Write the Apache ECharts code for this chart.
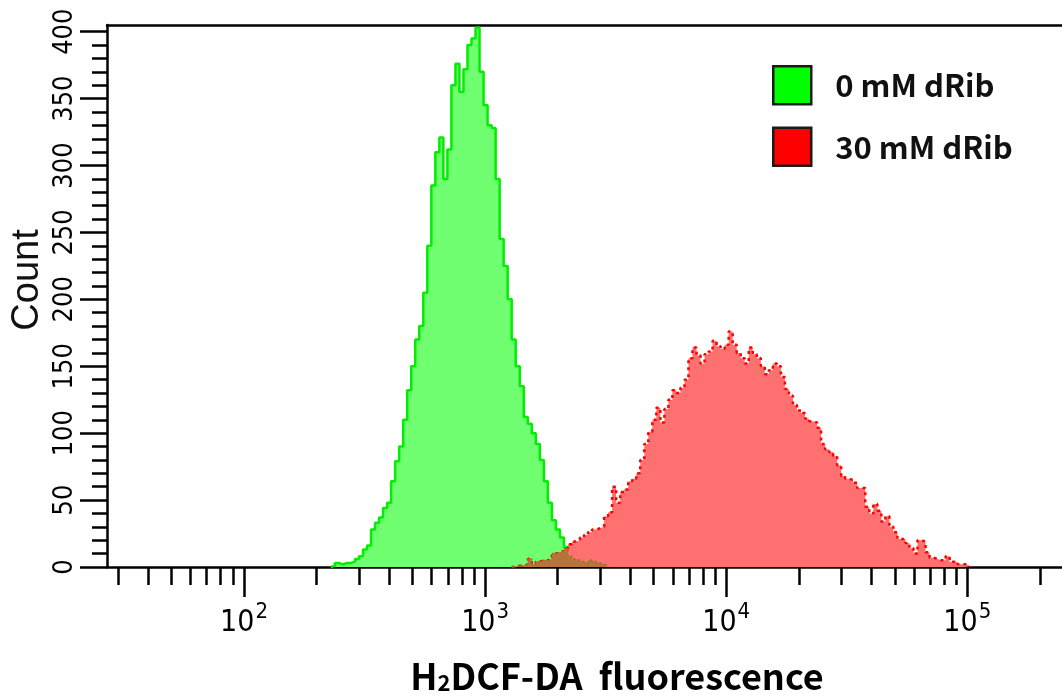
<!DOCTYPE html>
<html>
<head>
<meta charset="utf-8">
<script src="https://cdn.jsdelivr.net/npm/echarts@6/dist/echarts.min.js"></script>
<style>
  html, body { margin: 0; padding: 0; background: #ffffff; }
  #chart { width: 1062px; height: 700px; }
</style>
</head>
<body>
<div id="chart"></div>
<script>
// Histogram channels: equal-width bins on a log10 fluorescence scale
const BIN_WIDTH_LOG = 1 / 60;
const FIRST_BIN_LOG_0MM = 2.36;
const FIRST_BIN_LOG_30MM = 3.11;

const seriesNames = ['0 mM dRib', '30 mM dRib'];

// Cell counts per channel, 0 mM dRib
const counts0mM = [
  1, 3, 2, 3, 3, 4, 6, 8, 13, 16,
  28, 33, 37, 44, 48, 64, 79, 90, 110, 132,
  150, 170, 180, 205, 240, 285, 310, 321, 290, 312,
  360, 376, 355, 372, 390, 395, 403, 370, 345, 330,
  328, 290, 245, 225, 200, 170, 150, 135, 112, 107,
  100, 92, 80, 64, 48, 35, 28, 22, 15, 8,
  6, 5, 4, 3, 5, 4, 3, 2, 1
];

// Cell counts per channel, 30 mM dRib
const counts30mM = [
  0, 1, 1, 2, 6, 2, 4, 5, 5, 6,
  10, 11, 12, 14, 17, 19, 20, 22, 24, 26,
  28, 29, 30, 38, 41, 60, 48, 56, 58, 64,
  66, 70, 80, 92, 101, 110, 119, 108, 118, 125,
  132, 130, 134, 140, 156, 164, 158, 152, 159, 161,
  169, 165, 163, 166, 176, 166, 160, 156, 152, 164,
  159, 156, 150, 144, 147, 152, 150, 142, 133, 128,
  121, 117, 115, 111, 109, 108, 104, 92, 88, 86,
  83, 76, 68, 66, 65, 63, 59, 59, 45, 40,
  47, 42, 34, 38, 30, 26, 21, 21, 18, 14,
  10, 20, 19, 11, 7, 6, 5, 5, 8, 4,
  4, 2, 2, 1
];

// Axis ticks
const countMajorTicks = [0, 50, 100, 150, 200, 250, 300, 350, 400];
const countMinorTicks = [10, 20, 30, 40, 60, 70, 80, 90, 110, 120, 130, 140, 160, 170, 180, 190,
  210, 220, 230, 240, 260, 270, 280, 290, 310, 320, 330, 340, 360, 370, 380, 390];
const decadeTicks = [100, 1000, 10000, 100000];
const subDecadeTicks = [30, 40, 50, 60, 70, 80, 90,
  200, 300, 400, 500, 600, 700, 800, 900,
  2000, 3000, 4000, 5000, 6000, 7000, 8000, 9000,
  20000, 30000, 40000, 50000, 60000, 70000, 80000, 90000,
  200000];

const X_MIN = 27;
const X_MAX = 247000;
const Y_MAX = 405;

// Step outline points for a histogram: left edge of each bin, closed at both ends
function histogramPoints(firstLog, counts) {
  const pts = [[Math.pow(10, firstLog), 0]];
  counts.forEach(function (c, i) {
    pts.push([Math.pow(10, firstLog + i * BIN_WIDTH_LOG), c]);
  });
  pts.push([Math.pow(10, firstLog + counts.length * BIN_WIDTH_LOG), 0]);
  return pts;
}

// Region shared by both histograms (drawn in a mixed colour)
const shift = Math.round((FIRST_BIN_LOG_30MM - FIRST_BIN_LOG_0MM) / BIN_WIDTH_LOG);
const overlapCounts = [];
for (let j = 0; j < counts30mM.length && j + shift < counts0mM.length; j++) {
  overlapCounts.push(Math.min(counts30mM[j], counts0mM[j + shift]));
}

const tickFont = "'Liberation Sans Narrow', 'DejaVu Sans Condensed', 'Liberation Sans', sans-serif";
const boldFont = "'Noto Sans CJK KR', 'Noto Sans', sans-serif";

const chart = echarts.init(document.getElementById('chart'), null, { renderer: 'canvas' });

const hiddenAxisParts = {
  axisLine: { show: false },
  axisTick: { show: false },
  axisLabel: { show: false },
  splitLine: { show: false }
};

chart.setOption({
  animation: false,
  backgroundColor: '#ffffff',
  grid: { left: 107, right: 0, top: 25, bottom: 133, containLabel: false },
  legend: {
    orient: 'vertical',
    left: 772,
    top: 65,
    padding: 0,
    itemWidth: 38,
    itemHeight: 38,
    itemGap: 21,
    icon: 'rect',
    selectedMode: false,
    textStyle: {
      fontFamily: boldFont,
      fontWeight: 'bold',
      fontSize: 31,
      color: '#111111',
      padding: [0, 0, 0, 19]
    },
    data: [
      { name: seriesNames[0], itemStyle: { color: '#00ff00', borderColor: '#1a1a1a', borderWidth: 2.5 } },
      { name: seriesNames[1], itemStyle: { color: '#ff0000', borderColor: '#1a1a1a', borderWidth: 2.5 } }
    ]
  },
  xAxis: [
    {
      type: 'log', logBase: 10, min: X_MIN, max: X_MAX, position: 'bottom',
      axisLine: { show: true, lineStyle: { color: '#000', width: 2.5 } },
      axisTick: { show: true, customValues: decadeTicks, length: 30, lineStyle: { color: '#000', width: 2.5 } },
      axisLabel: {
        show: true,
        customValues: decadeTicks,
        margin: 34,
        formatter: function (v) {
          return '{b|10}{e|' + Math.round(Math.log10(v)) + '}';
        },
        rich: {
          b: { fontFamily: tickFont, fontSize: 30, color: '#000', verticalAlign: 'bottom' },
          e: { fontFamily: tickFont, fontSize: 22, color: '#000', verticalAlign: 'bottom', padding: [0, 0, 15, 1] }
        }
      },
      splitLine: { show: false }
    },
    {
      type: 'log', logBase: 10, min: X_MIN, max: X_MAX, position: 'bottom',
      axisLine: { show: false },
      axisTick: { show: true, customValues: subDecadeTicks, length: 18, lineStyle: { color: '#000', width: 2.5 } },
      axisLabel: { show: false },
      splitLine: { show: false }
    },
    Object.assign({ type: 'log', logBase: 10, min: X_MIN, max: X_MAX, position: 'top' }, hiddenAxisParts, {
      axisLine: { show: true, lineStyle: { color: '#000', width: 2.5 } }
    })
  ],
  yAxis: [
    {
      type: 'value', min: 0, max: Y_MAX, position: 'left',
      axisLine: { show: true, lineStyle: { color: '#000', width: 2.5 } },
      axisTick: { show: true, customValues: countMajorTicks, length: 27, lineStyle: { color: '#000', width: 2.5 } },
      axisLabel: {
        show: true,
        customValues: countMajorTicks,
        rotate: 90,
        margin: 29,
        fontFamily: tickFont,
        fontSize: 27,
        color: '#000'
      },
      splitLine: { show: false }
    },
    {
      type: 'value', min: 0, max: Y_MAX, position: 'left',
      axisLine: { show: false },
      axisTick: { show: true, customValues: countMinorTicks, length: 15, lineStyle: { color: '#000', width: 2.5 } },
      axisLabel: { show: false },
      splitLine: { show: false }
    }
  ],
  graphic: [
    {
      type: 'text',
      x: 28, y: 280, rotation: Math.PI / 2,
      style: {
        text: 'Count',
        fontFamily: "'Liberation Sans', Arial, sans-serif",
        fontSize: 38,
        fill: '#111',
        align: 'center',
        verticalAlign: 'middle'
      }
    },
    {
      type: 'text',
      x: 617, y: 674,
      style: {
        text: '{m|H}{s|2}{m|DCF-DA  fluorescence}',
        align: 'center',
        verticalAlign: 'middle',
        rich: {
          m: { fontFamily: boldFont, fontWeight: 'bold', fontSize: 36, fill: '#000', verticalAlign: 'bottom', lineHeight: 40 },
          s: { fontFamily: boldFont, fontWeight: 'bold', fontSize: 22, fill: '#000', verticalAlign: 'bottom', lineHeight: 14 }
        }
      }
    }
  ],
  series: [
    {
      name: seriesNames[0],
      type: 'line',
      xAxisIndex: 0, yAxisIndex: 0,
      step: 'end',
      symbol: 'none',
      silent: true,
      z: 2,
      data: histogramPoints(FIRST_BIN_LOG_0MM, counts0mM),
      itemStyle: { color: '#00ff00' },
      lineStyle: { color: '#00ee00', width: 2.5 },
      areaStyle: { color: '#70ff70', opacity: 1 }
    },
    {
      name: seriesNames[1],
      type: 'line',
      xAxisIndex: 0, yAxisIndex: 0,
      step: 'end',
      symbol: 'none',
      silent: true,
      z: 3,
      data: histogramPoints(FIRST_BIN_LOG_30MM, counts30mM),
      itemStyle: { color: '#ff0000' },
      lineStyle: { color: '#ff0000', width: 2.5, type: [3, 4] },
      areaStyle: { color: '#ff7070', opacity: 1 }
    },
    {
      name: 'overlap',
      type: 'line',
      xAxisIndex: 0, yAxisIndex: 0,
      step: 'end',
      symbol: 'none',
      silent: true,
      z: 4,
      data: histogramPoints(FIRST_BIN_LOG_30MM, overlapCounts),
      lineStyle: { color: '#8a7a10', width: 1.5, type: [2, 3] },
      areaStyle: { color: '#b8733a', opacity: 1 }
    }
  ]
});
</script>
</body>
</html>
